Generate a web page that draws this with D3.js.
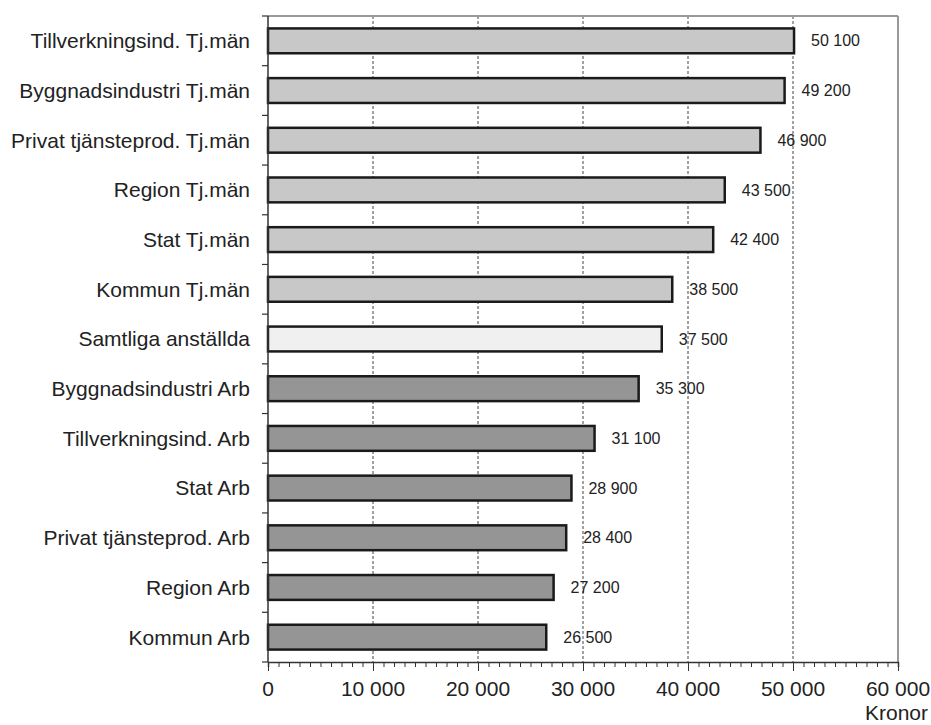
<!DOCTYPE html>
<html><head><meta charset="utf-8">
<script src="https://cdn.jsdelivr.net/npm/d3@7"></script>
<style>body{margin:0;background:#fff;} text{font-family:"Liberation Sans",Arial,sans-serif;}</style>
</head><body>
<svg id="c" width="931" height="725"></svg>
<script>
const categories = ["Tillverkningsind. Tj.män","Byggnadsindustri Tj.män","Privat tjänsteprod. Tj.män","Region Tj.män","Stat Tj.män","Kommun Tj.män","Samtliga anställda","Byggnadsindustri Arb","Tillverkningsind. Arb","Stat Arb","Privat tjänsteprod. Arb","Region Arb","Kommun Arb"];
const values = [50100,49200,46900,43500,42400,38500,37500,35300,31100,28900,28400,27200,26500];
const groups = ["tj","tj","tj","tj","tj","tj","all","arb","arb","arb","arb","arb","arb"];
const xTicks = [0,10000,20000,30000,40000,50000,60000];
const xTitle = "Kronor";
const colors = {tj:"#c8c8c8", all:"#f0f0f0", arb:"#959595"};

const svg = d3.select("#c");
const L=268, R=898, T=16, B=662;
const x = d3.scaleLinear().domain([0,60000]).range([L,R]);
const y = d3.scaleBand().domain(categories).range([T,B]).paddingInner(0.5).paddingOuter(0.25);
const fmt = v => d3.format(",")(v).replace(/,/g," ");

// grid
svg.append("g").selectAll("line").data(xTicks.filter(t=>t>0&&t<60000)).join("line")
  .attr("x1",d=>x(d)).attr("x2",d=>x(d)).attr("y1",T).attr("y2",B)
  .attr("stroke","#444").attr("stroke-width",1).attr("stroke-dasharray","3,2");
// frame top/right
svg.append("line").attr("x1",L).attr("x2",R).attr("y1",T).attr("y2",T).attr("stroke","#999").attr("stroke-width",2);
svg.append("line").attr("x1",R).attr("x2",R).attr("y1",T).attr("y2",B).attr("stroke","#999").attr("stroke-width",2);

// bars
svg.append("g").selectAll("rect").data(categories).join("rect")
  .attr("x",x(0)).attr("y",d=>y(d)).attr("width",(d,i)=>x(values[i])-x(0)).attr("height",y.bandwidth())
  .attr("fill",(d,i)=>colors[groups[i]]).attr("stroke","#1a1a1a").attr("stroke-width",2.5);

// value labels
svg.append("g").selectAll("text").data(categories).join("text")
  .attr("x",(d,i)=>x(values[i])+17).attr("y",d=>y(d)+y.bandwidth()/2).attr("dy","0.35em")
  .attr("font-size",16).attr("fill","#222").text((d,i)=>fmt(values[i]));

// x axis
const xa = svg.append("g").attr("transform",`translate(0,${B})`)
  .call(d3.axisBottom(x).tickValues(d3.range(0,60001,1000)).tickSize(5).tickFormat(""));
xa.select(".domain").attr("stroke","#333").attr("stroke-width",1.5);
xa.selectAll(".tick line").attr("stroke","#333").attr("stroke-width",1)
  .attr("y2",d=>d%10000===0?9:5);
svg.append("g").selectAll("text").data(xTicks).join("text")
  .attr("x",d=>x(d)).attr("y",B+34).attr("text-anchor","middle")
  .attr("font-size",21).attr("fill","#222").text(fmt);
svg.append("text").attr("x",928).attr("y",720).attr("text-anchor","end")
  .attr("font-size",21).attr("fill","#222").text(xTitle);

// y axis
svg.append("line").attr("x1",L).attr("x2",L).attr("y1",T).attr("y2",B).attr("stroke","#333").attr("stroke-width",1.5);
const bounds = d3.range(categories.length+1).map(i=>T+i*(B-T)/categories.length);
svg.append("g").selectAll("line").data(bounds).join("line")
  .attr("x1",L-6).attr("x2",L).attr("y1",d=>d).attr("y2",d=>d).attr("stroke","#333").attr("stroke-width",1.2);
svg.append("g").selectAll("text").data(categories).join("text")
  .attr("x",250).attr("y",d=>y(d)+y.bandwidth()/2).attr("dy","0.35em").attr("text-anchor","end")
  .attr("font-size",21).attr("fill","#222").text(d=>d);
</script>
</body></html>
